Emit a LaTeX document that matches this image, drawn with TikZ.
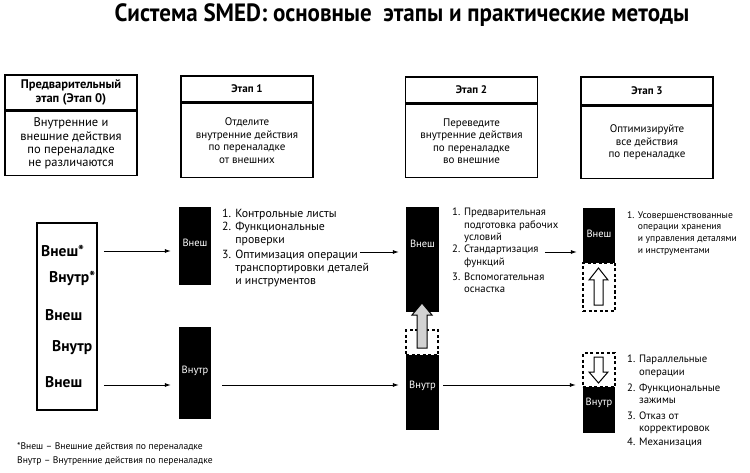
\documentclass[tikz,border=0pt]{standalone}
\usepackage{fontspec}
\setmainfont{PT Sans}
\newfontfamily\titlefont{PT Sans}[FakeStretch=0.92]
\usetikzlibrary{arrows.meta, positioning}

\begin{document}
\begin{tikzpicture}[
    x=1pt, y=-1pt,
    stagehead/.style={draw, line width=1.5pt, minimum width=132pt, inner sep=1pt,
                      align=center, font=\fontsize{11}{13}\selectfont\bfseries},
    stagebody/.style={draw, line width=1.5pt, minimum width=132pt, anchor=north,
                      align=center, font=\fontsize{11}{12.5}\selectfont},
    blk/.style={fill=black, minimum width=32pt, inner sep=0pt},
    blktext/.style={text=white, font=\fontsize{10.5}{11}\selectfont},
    ghost/.style={draw, dash pattern=on 3pt off 2.5pt, line width=1.2pt,
                  minimum width=32pt, inner sep=0pt},
    acts/.style={anchor=north west, align=left, inner sep=0pt,
                 font=\fontsize{10.7}{12.3}\selectfont},
    kind/.style={anchor=west, inner sep=0pt, font=\fontsize{15.5}{15.5}\selectfont\bfseries},
    flow/.style={-{Latex[length=6pt,width=4pt]}, line width=0.8pt},
    blockarrow/.style={draw, line width=1pt, line join=miter}
]
    \useasboundingbox (0,0) rectangle (750,473);

    % title
    \node[font=\titlefont\fontsize{25}{25}\selectfont\bfseries] (title) at (402,15)
        {Система SMED: основные~ этапы и практические методы};

    % stage headers and descriptions
    \node[stagehead, minimum height=35pt, font=\fontsize{12.5}{14}\selectfont\bfseries] (head0) at (71,92.5)
        {Предварительный\\этап (Этап 0)};
    \node[stagebody, minimum height=64pt, font=\fontsize{12.5}{13.3}\selectfont] (body0) at (head0.south)
        {Внутренние и\\внешние действия\\по переналадке\\не различаются};
    \node[stagehead, minimum height=26pt] (head1) at (247,89) {Этап 1};
    \node[stagebody, minimum height=74pt] (body1) at (head1.south)
        {Отделите\\внутренние действия\\по переналадке\\от внешних};
    \node[stagehead, minimum height=26pt] (head2) at (471.5,90) {Этап 2};
    \node[stagebody, minimum height=73pt] (body2) at (head2.south)
        {Переведите\\внутренние действия\\по переналадке\\во внешние};
    \node[stagehead, minimum height=28pt] (head3) at (647,91) {Этап 3};
    \node[stagebody, minimum height=72pt] (body3) at (head3.south)
        {Оптимизируйте\\все действия\\по переналадке};

    % stage 0: mixed operations
    \node[draw, line width=1.5pt, minimum width=60pt, minimum height=187pt] (mix) at (67,316.5) {};
    \node[kind] (lab1) at (41,251) {Внеш*};
    \node[kind] (lab2) at (49,278) {Внутр*};
    \node[kind] (lab3) at (45,315) {Внеш};
    \node[kind] (lab4) at (52,348) {Внутр};
    \node[kind] (lab5) at (45,382) {Внеш};

    \coordinate (toprow) at (0,252);
    \coordinate (lowrow) at (0,385);

    % stage 1
    \node[blk, minimum height=78pt, label={[blktext, yshift=3pt]center:Внеш}] (ext1) at (195,246) {};
    \node[blk, minimum height=92pt, label={[blktext, yshift=2pt]center:Внутр}] (int1) at (195,373) {};
    \node[acts, font=\fontsize{11.8}{13}\selectfont] (list1) at (222,209)
        {1. Контрольные листы\\
         2. Функциональные\\\phantom{2. }проверки\\[2pt]
         3. Оптимизация операции\\\phantom{3. }транспортировки деталей\\\phantom{3. }и инструментов};

    % stage 2
    \node[ghost, minimum height=25pt] (ghost2) at (422,342.5) {};
    \node[blk, minimum width=33pt, minimum height=105pt, label={[blktext, yshift=16pt]center:Внеш}] (ext2) at (422.5,259.5) {};
    \node[blk, minimum width=33pt, minimum height=75pt, label={[blktext, yshift=7pt]center:Внутр}] (int2) at (422.5,392.5) {};
    \draw[blockarrow, fill=gray!35] (417,348) -- (417,315) -- (412,315) -- (422,303)
        -- (432,315) -- (427,315) -- (427,348) -- cycle;
    \node[acts] (list2) at (452,208)
        {1. Предварительная\\\phantom{1. }подготовка рабочих\\\phantom{1. }условий\\
         2. Стандартизация\\\phantom{2. }функций\\[3pt]
         3. Вспомогательная\\\phantom{3. }оснастка};

    % stage 3
    \node[ghost, minimum height=48pt] (ghost3a) at (599,287) {};
    \node[ghost, minimum height=34pt] (ghost3b) at (599,370) {};
    \node[blk, minimum height=55pt, label={[blktext, yshift=2pt]center:Внеш}] (ext3) at (599,235.5) {};
    \node[blk, minimum height=46pt, label={[blktext, yshift=7pt]center:Внутр}] (int3) at (599,410) {};
    \draw[blockarrow, fill=white] (594,305) -- (594,280) -- (589,280) -- (598.5,268)
        -- (608,280) -- (603,280) -- (603,305) -- cycle;
    \draw[blockarrow, fill=white] (594,357) -- (594,372) -- (589,372) -- (598.5,383)
        -- (608,372) -- (603,372) -- (603,357) -- cycle;
    \node[acts, font=\fontsize{9.6}{11.8}\selectfont] (list3a) at (627,211)
        {1. Усовершенствованные\\\phantom{1. }операции хранения\\\phantom{1. }и управления деталями\\\phantom{1. }и инструментами};
    \node[acts] (list3b) at (627,355)
        {1. Параллельные\\\phantom{1. }операции\\[4pt]
         2. Функциональные\\\phantom{2. }зажимы\\[3pt]
         3. Отказ от\\\phantom{3. }корректировок\\[2pt]
         4. Механизация};

    % connectors
    \draw[flow] ([xshift=6pt]mix.east |- lab1) -- ([xshift=-8pt]ext1.west |- lab1);
    \draw[flow] ([xshift=6pt]mix.east |- lowrow) -- ([xshift=-8pt]int1.west |- lowrow);
    \draw[flow] ([xshift=-46pt]ext2.west |- toprow) -- ([xshift=-7pt]ext2.west |- toprow);
    \draw[flow] ([xshift=11pt]int1.east |- lowrow) -- ([xshift=-7pt]int2.west |- lowrow);
    \draw[flow] ([xshift=-38pt]ext3.west |- toprow) -- ([xshift=-6pt]ext3.west |- toprow);
    \draw[flow] ([xshift=4pt]int2.east |- lowrow) -- ([xshift=-7pt]int3.west |- lowrow);

    % footnote
    \node[acts, font=\fontsize{9.6}{14}\selectfont] (note) at (17,442)
        {*Внеш – Внешние действия по переналадке\\Внутр – Внутренние действия по переналадке};
\end{tikzpicture}
\end{document}
